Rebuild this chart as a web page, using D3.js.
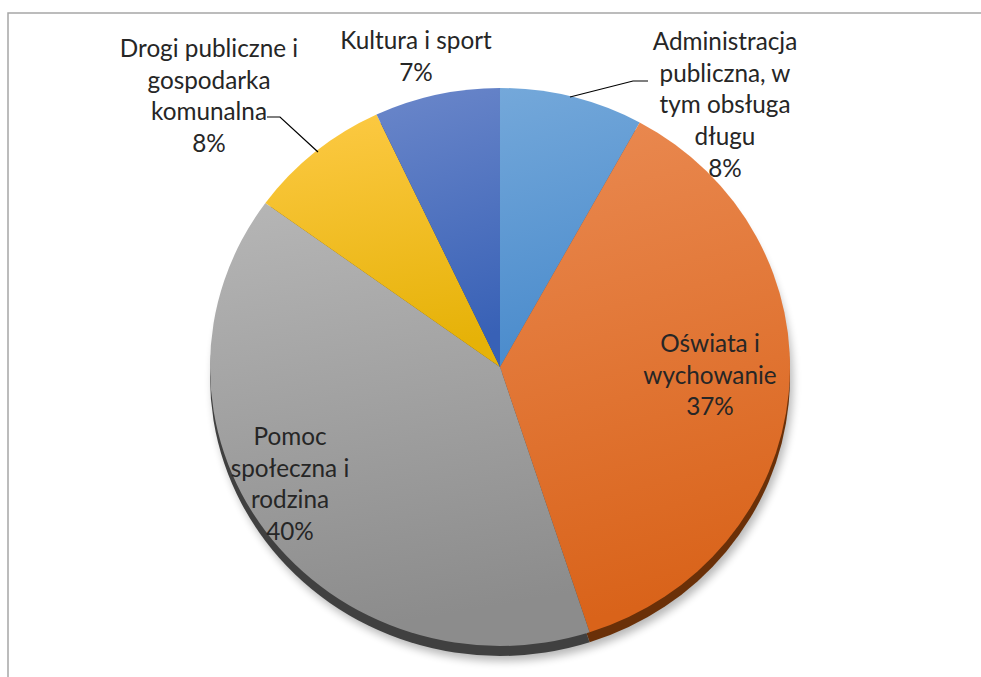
<!DOCTYPE html>
<html>
<head>
<meta charset="utf-8">
<script src="https://cdn.jsdelivr.net/npm/d3@7"></script>
<style>
  html, body { margin: 0; padding: 0; background: #fff; }
  svg { display: block; }
</style>
</head>
<body>
<div class="canvas"></div>
<script>
// data
const categories = [
  "Administracja publiczna, w tym obsługa długu",
  "Oświata i wychowanie",
  "Pomoc społeczna i rodzina",
  "Drogi publiczne i gospodarka komunalna",
  "Kultura i sport"
];
const shares = [8, 37, 40, 8, 7];
const labelLines = [
  ["Administracja", "publiczna, w", "tym obsługa", "długu"],
  ["Oświata i", "wychowanie"],
  ["Pomoc", "społeczna i", "rodzina"],
  ["Drogi publiczne i", "gospodarka", "komunalna"],
  ["Kultura i sport"]
];

const svgWidth = 981, svgHeight = 677;
const cx = 500, cy = 367, R = 290, ry = 279;
const depth = 10;

// colours: [top, bottom, rim]
const colours = [
  ["#74a8da", "#4a8bcc", "#2c5a88"],
  ["#ea8a52", "#d9631a", "#6a3008"],
  ["#b6b6b6", "#8c8c8c", "#404040"],
  ["#fdca45", "#e6b208", "#7a5c00"],
  ["#6b87ca", "#3861b6", "#203c78"]
];

// label layout (centre x, first baseline) and leader lines
const labelPos = [[725, 50], [710, 352], [290, 445], [209, 57], [416, 49]];
const leaders = [
  [[570, 97], [633, 81], [648, 81]],
  null, null,
  [[267, 117], [280, 117], [318, 152]],
  null
];

const svg = d3.select(".canvas").append("svg")
  .attr("width", svgWidth)
  .attr("height", svgHeight);

const defs = svg.append("defs");

colours.forEach((c, i) => {
  const g = defs.append("linearGradient")
    .attr("id", "grad" + i)
    .attr("x1", 0).attr("y1", 0).attr("x2", 0.15).attr("y2", 1);
  g.append("stop").attr("offset", "0%").attr("stop-color", c[0]);
  g.append("stop").attr("offset", "100%").attr("stop-color", c[1]);
});

const blur = defs.append("filter").attr("id", "shadow")
  .attr("x", "-10%").attr("y", "-10%").attr("width", "120%").attr("height", "130%");
blur.append("feGaussianBlur").attr("stdDeviation", 4);

// chart frame
svg.append("rect")
  .attr("x", 8).attr("y", 13)
  .attr("width", 1200).attr("height", 1000)
  .attr("fill", "none")
  .attr("stroke", "#a6a6a6")
  .attr("stroke-width", 1.5);

const pie = d3.pie().sort(null).value(d => d)(shares);
const arc = d3.arc().innerRadius(0).outerRadius(R);

const sy = ry / R;

// soft shadow
svg.append("ellipse")
  .attr("cx", cx + 3).attr("cy", cy + depth + 5)
  .attr("rx", R).attr("ry", ry)
  .attr("fill", "#000")
  .attr("opacity", 0.28)
  .attr("filter", "url(#shadow)");

// rim (side of the 3d pie)
const rim = svg.append("g")
  .attr("transform", `translate(${cx} ${cy + depth}) scale(1 ${sy})`);
rim.selectAll("path")
  .data(pie)
  .enter().append("path")
  .attr("d", arc)
  .attr("fill", (d, i) => colours[i][2]);

// top face
const face = svg.append("g")
  .attr("transform", `translate(${cx} ${cy}) scale(1 ${sy})`);
face.selectAll("path")
  .data(pie)
  .enter().append("path")
  .attr("d", arc)
  .attr("fill", (d, i) => `url(#grad${i})`);

// leader lines
svg.selectAll(".leader")
  .data(leaders.filter(d => d))
  .enter().append("polyline")
  .attr("class", "leader")
  .attr("points", d => d.map(p => p.join(",")).join(" "))
  .attr("fill", "none")
  .attr("stroke", "#000")
  .attr("stroke-width", 1.2);

// labels
const lineH = 31.7;
const labels = svg.selectAll(".label")
  .data(pie)
  .enter().append("text")
  .attr("class", "label")
  .attr("text-anchor", "middle")
  .style("font-family", "Lato, 'Open Sans', sans-serif")
  .style("font-size", "24.3px")
  .attr("fill", "#262626");

labels.each(function (d, i) {
  const t = d3.select(this);
  const lines = labelLines[i].concat([shares[i] + "%"]);
  lines.forEach((ln, k) => {
    t.append("tspan")
      .attr("x", labelPos[i][0])
      .attr("y", labelPos[i][1] + k * lineH)
      .text(ln);
  });
});
</script>
</body>
</html>
